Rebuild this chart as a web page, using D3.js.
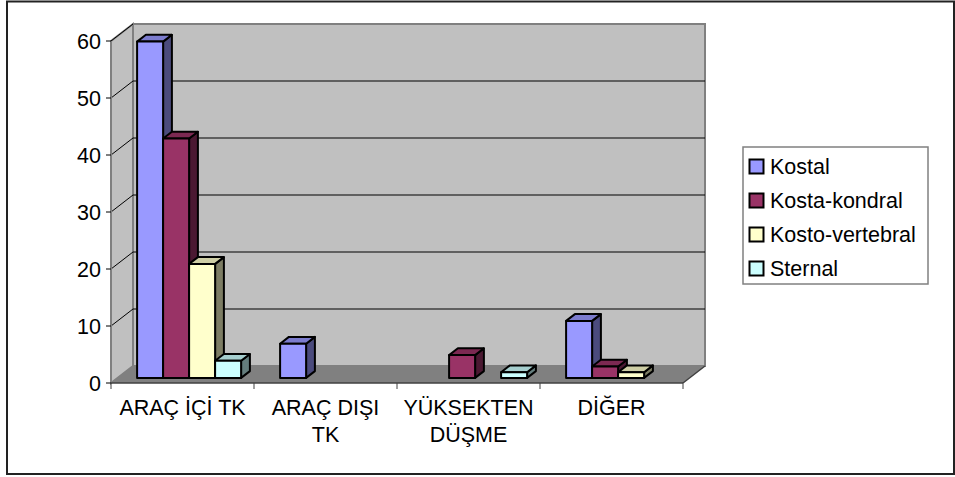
<!DOCTYPE html>
<html>
<head>
<meta charset="utf-8">
<script src="https://cdn.jsdelivr.net/npm/d3@7"></script>
<style>
  html, body { margin: 0; padding: 0; background: #ffffff; }
  svg { display: block; }
  text { font-family: "Liberation Sans", Arial, sans-serif; fill: #000; }
</style>
</head>
<body>
<svg id="chart" width="955" height="477"></svg>
<script>
// Fracture types by mechanism of injury
const categories = ["ARAÇ İÇİ TK", "ARAÇ DIŞI TK", "YÜKSEKTEN DÜŞME", "DİĞER"];
const categoryLines = [["ARAÇ İÇİ TK"], ["ARAÇ DIŞI", "TK"], ["YÜKSEKTEN", "DÜŞME"], ["DİĞER"]];
const seriesNames = ["Kostal", "Kosta-kondral", "Kosto-vertebral", "Sternal"];
const kostal = [59, 6, null, 10];
const kostaKondral = [42, null, 4, 2];
const kostoVertebral = [20, null, null, 1];
const sternal = [3, null, 1, null];
const yTicks = [0, 10, 20, 30, 40, 50, 60];

const seriesValues = [kostal, kostaKondral, kostoVertebral, sternal];
const seriesColors = ["#9999FF", "#993366", "#FFFFCC", "#CCFFFF"];

const svg = d3.select("#chart");

// plot box (front plane) and depth vector of the 3D box
const plotLeft = 111, plotRight = 683, plotBottom = 383, plotTop = 41;
const depth = { dx: 22, dy: -17 };
const barFront = 0.3, barBack = 0.7;

const y = d3.scaleLinear().domain([0, 60]).range([plotBottom, plotTop]);
const x0 = d3.scaleBand().domain(categories).range([plotLeft, plotRight]);
const x1 = d3.scaleBand().domain(seriesNames).range([0, x0.bandwidth()])
  .paddingInner(0).paddingOuter(0.75);

const shift = (t) => [t * depth.dx, t * depth.dy];
const pts = (arr) => arr.map(p => p.join(",")).join(" ");

// outer frame
svg.append("rect")
  .attr("x", 7).attr("y", 1.5).attr("width", 947).attr("height", 472.5)
  .attr("fill", "#fff").attr("stroke", "#222").attr("stroke-width", 2);

const [bdx, bdy] = shift(1);

// walls and floor
svg.append("polygon")
  .attr("points", pts([[plotLeft, plotBottom], [plotLeft, plotTop], [plotLeft + bdx, plotTop + bdy], [plotLeft + bdx, plotBottom + bdy]]))
  .attr("fill", "#C0C0C0").attr("stroke", "#808080").attr("stroke-width", 2);
svg.append("rect")
  .attr("x", plotLeft + bdx).attr("y", plotTop + bdy)
  .attr("width", plotRight - plotLeft).attr("height", plotBottom - plotTop)
  .attr("fill", "#C0C0C0").attr("stroke", "#808080").attr("stroke-width", 2);
svg.append("polygon")
  .attr("points", pts([[plotLeft, plotBottom], [plotRight, plotBottom], [plotRight + bdx, plotBottom + bdy], [plotLeft + bdx, plotBottom + bdy]]))
  .attr("fill", "#808080").attr("stroke", "none");

// gridlines on side wall and back wall
const grid = svg.append("g").attr("stroke", "#000").attr("stroke-width", 1);
yTicks.filter(v => v > 0).forEach(v => {
  const yy = y(v);
  grid.append("line")
    .attr("x1", plotLeft).attr("y1", yy).attr("x2", plotLeft + bdx).attr("y2", yy + bdy);
  if (v < 60) {
    grid.append("line")
      .attr("x1", plotLeft + bdx).attr("y1", yy + bdy).attr("x2", plotRight + bdx).attr("y2", yy + bdy);
  }
});

// value axis
svg.append("line")
  .attr("x1", plotLeft).attr("y1", plotTop).attr("x2", plotLeft).attr("y2", plotBottom)
  .attr("stroke", "#808080").attr("stroke-width", 2);
const yAxis = svg.append("g");
yTicks.forEach(v => {
  yAxis.append("line")
    .attr("x1", plotLeft - 5).attr("x2", plotLeft).attr("y1", y(v)).attr("y2", y(v))
    .attr("stroke", "#000").attr("stroke-width", 1);
  yAxis.append("text")
    .attr("x", 101).attr("y", y(v)).attr("dy", "0.35em")
    .attr("text-anchor", "end").attr("font-size", 21.5).text(v);
});

// category axis (front floor edge)
svg.append("line")
  .attr("x1", plotLeft).attr("y1", plotBottom).attr("x2", plotRight).attr("y2", plotBottom)
  .attr("stroke", "#404040").attr("stroke-width", 1.5);
svg.append("line")
  .attr("x1", plotRight).attr("y1", plotBottom).attr("x2", plotRight + bdx).attr("y2", plotBottom + bdy)
  .attr("stroke", "#404040").attr("stroke-width", 1.5);
const xTickPos = categories.map(c => x0(c)).concat([plotRight]);
xTickPos.forEach(px => {
  svg.append("line")
    .attr("x1", px).attr("x2", px).attr("y1", plotBottom).attr("y2", plotBottom + 6)
    .attr("stroke", "#404040").attr("stroke-width", 1);
});
categories.forEach((c, i) => {
  const cx = x0(c) + x0.bandwidth() / 2;
  const t = svg.append("text")
    .attr("x", cx).attr("y", 415)
    .attr("text-anchor", "middle").attr("font-size", 21.5);
  categoryLines[i].forEach((line, k) => {
    t.append("tspan").attr("x", cx).attr("dy", k === 0 ? 0 : 27).text(line);
  });
});

// 3D bars
const [fdx, fdy] = shift(barFront);
const [kdx, kdy] = shift(barBack - barFront);
const bars = svg.append("g")
  .attr("stroke", "#000").attr("stroke-width", 2).attr("stroke-linejoin", "round");

categories.forEach((c, ci) => {
  seriesNames.forEach((s, si) => {
    const v = seriesValues[si][ci];
    if (v == null) return;
    const col = d3.color(seriesColors[si]);
    const xl = x0(c) + x1(s) + fdx;
    const xr = xl + x1.bandwidth();
    const yt = y(v) + fdy;
    const yb = y(0) + fdy;
    const g = bars.append("g");
    // side face
    g.append("polygon")
      .attr("points", pts([[xr, yt], [xr + kdx, yt + kdy], [xr + kdx, yb + kdy], [xr, yb]]))
      .attr("fill", col.darker(2).toString());
    // top face
    g.append("polygon")
      .attr("points", pts([[xl, yt], [xr, yt], [xr + kdx, yt + kdy], [xl + kdx, yt + kdy]]))
      .attr("fill", col.darker(0.6).toString());
    // front face
    g.append("rect")
      .attr("x", xl).attr("y", yt).attr("width", xr - xl).attr("height", yb - yt)
      .attr("fill", seriesColors[si]);
  });
});

// legend
const legend = svg.append("g");
legend.append("rect")
  .attr("x", 743).attr("y", 147).attr("width", 185).attr("height", 137)
  .attr("fill", "#fff").attr("stroke", "#808080").attr("stroke-width", 1.5);
seriesNames.forEach((s, i) => {
  const cy = 166.5 + i * 34;
  legend.append("rect")
    .attr("x", 749.5).attr("y", cy - 7).attr("width", 14).attr("height", 14)
    .attr("fill", seriesColors[i]).attr("stroke", "#000").attr("stroke-width", 2);
  legend.append("text")
    .attr("x", 770).attr("y", cy + 7.5).attr("font-size", 21.5).text(s);
});
</script>
</body>
</html>
